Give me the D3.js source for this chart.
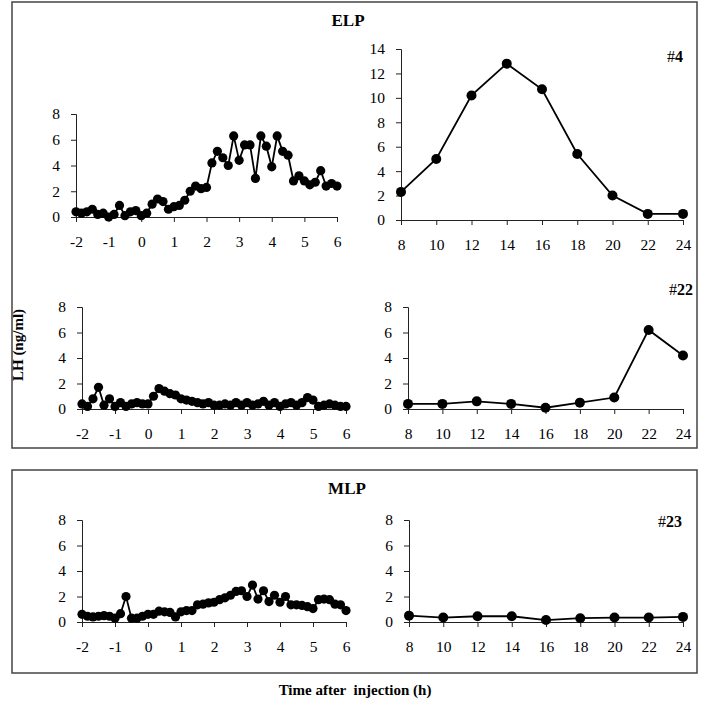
<!DOCTYPE html>
<html><head><meta charset="utf-8">
<script src="https://cdn.jsdelivr.net/npm/d3@7"></script>
<style>
body{margin:0;background:#fff;}
svg text{font-family:"Liberation Serif","Times New Roman",serif;fill:#000;}
</style></head>
<body><svg id="c" width="708" height="716"></svg>
<script>
// ---- data ----
const earlyTimes = d3.range(49).map(i => -2 + i/6);   // every 10 min from -2 h to 6 h
const lateTimes = [8,10,12,14,16,18,20,22,24];
const earlyTicks = [-2,-1,0,1,2,3,4,5,6];
const lateTicks = [8,10,12,14,16,18,20,22,24];
const smallYTicks = [0,2,4,6,8];
const bigYTicks = [0,2,4,6,8,10,12,14];

const elp4Early = [0.4,0.3,0.4,0.6,0.2,0.3,0.0,0.2,0.9,0.1,0.4,0.5,0.1,0.3,1.0,1.4,1.2,0.6,0.8,0.9,1.3,2.0,2.4,2.2,2.3,4.2,5.1,4.6,4.0,6.3,4.4,5.6,5.6,3.0,6.3,5.5,3.9,6.3,5.1,4.8,2.8,3.2,2.8,2.5,2.7,3.6,2.4,2.6,2.4];
const elp4Late = [2.3,5.0,10.2,12.8,10.7,5.4,2.0,0.5,0.5];
const elp22Early = [0.4,0.2,0.8,1.7,0.3,0.8,0.2,0.5,0.2,0.4,0.5,0.4,0.4,1.0,1.6,1.4,1.2,1.1,0.8,0.7,0.6,0.5,0.4,0.5,0.3,0.3,0.4,0.3,0.5,0.3,0.5,0.3,0.4,0.6,0.3,0.5,0.2,0.4,0.5,0.3,0.5,0.9,0.7,0.2,0.3,0.4,0.3,0.2,0.2];
const elp22Late = [0.4,0.4,0.6,0.4,0.1,0.5,0.9,6.2,4.2];
const mlp23Early = [0.6,0.45,0.4,0.45,0.5,0.45,0.3,0.65,2.0,0.3,0.3,0.45,0.6,0.6,0.85,0.8,0.75,0.4,0.8,0.9,0.9,1.35,1.4,1.5,1.55,1.75,1.9,2.1,2.4,2.45,2.0,2.9,1.8,2.45,1.6,2.1,1.55,2.0,1.35,1.35,1.3,1.2,1.05,1.75,1.8,1.75,1.4,1.35,0.9];
const mlp23Late = [0.5,0.35,0.45,0.45,0.15,0.3,0.35,0.35,0.4];

const svg = d3.select("#c");

// frames
svg.append("rect").attr("x",12).attr("y",2).attr("width",685).attr("height",446)
  .attr("fill","none").attr("stroke","#444").attr("stroke-width",1.5);
svg.append("rect").attr("x",12).attr("y",470).attr("width",685).attr("height",203)
  .attr("fill","none").attr("stroke","#444").attr("stroke-width",1.5);

const fmt = d => String(d);

function panel(opt){
  const x = d3.scaleLinear().domain(opt.xd).range(opt.xr);
  const y = d3.scaleLinear().domain(opt.yd).range(opt.yr);
  const g = svg.append("g");
  const ya = g.append("g").attr("transform",`translate(${opt.xr[0]},0)`)
    .call(d3.axisLeft(y).tickValues(opt.yt).tickFormat(fmt).tickSize(5).tickSizeOuter(5).tickPadding(11));
  const xa = g.append("g").attr("transform",`translate(0,${opt.yr[0]})`)
    .call(d3.axisBottom(x).tickValues(opt.xt).tickFormat(fmt).tickSize(5).tickSizeOuter(5).tickPadding(14));
  [ya,xa].forEach(a=>{
    a.selectAll("path,line").attr("stroke","#222").attr("stroke-width",1);
    a.selectAll("text").attr("font-size",15.5).attr("fill","#000")
      .attr("font-family","Liberation Serif, serif");
  });
  const line = d3.line().x(d=>x(d[0])).y(d=>y(d[1]));
  const pts = opt.xs.map((t,i)=>[t,opt.ys[i]]);
  g.append("path").datum(pts).attr("d",line).attr("fill","none")
    .attr("stroke","#000").attr("stroke-width",1.8);
  g.selectAll("circle.p").data(pts).enter().append("circle")
    .attr("cx",d=>x(d[0])).attr("cy",d=>y(d[1])).attr("r",opt.r).attr("fill","#000");
  if(opt.label){
    const t = svg.append("text").attr("x",opt.label[1]).attr("y",opt.label[2])
      .attr("text-anchor","end").attr("font-size",16).attr("font-weight","bold");
    t.append("tspan").attr("font-weight","normal").text("#");
    t.append("tspan").text(opt.label[0]);
  }
}

panel({xd:[-2,6],xr:[76,337],yd:[0,8],yr:[217,114],xt:earlyTicks,yt:smallYTicks,xs:earlyTimes,ys:elp4Early,r:4.6});
panel({xd:[8,24],xr:[401,683],yd:[0,14],yr:[220,49],xt:lateTicks,yt:bigYTicks,xs:lateTimes,ys:elp4Late,r:5,label:["4",683,62]});
panel({xd:[-2,6],xr:[82,346],yd:[0,8],yr:[409,307],xt:earlyTicks,yt:smallYTicks,xs:earlyTimes,ys:elp22Early,r:4.6});
panel({xd:[8,24],xr:[408,683],yd:[0,8],yr:[409,307],xt:lateTicks,yt:smallYTicks,xs:lateTimes,ys:elp22Late,r:5,label:["22",693,295]});
panel({xd:[-2,6],xr:[82,346],yd:[0,8],yr:[622,520],xt:earlyTicks,yt:smallYTicks,xs:earlyTimes,ys:mlp23Early,r:4.6});
panel({xd:[8,24],xr:[409,683],yd:[0,8],yr:[622,520],xt:lateTicks,yt:smallYTicks,xs:lateTimes,ys:mlp23Late,r:5,label:["23",682,527]});

// titles
svg.append("text").attr("x",348).attr("y",26).attr("text-anchor","middle")
  .attr("font-size",17).attr("font-weight","bold").text("ELP");
svg.append("text").attr("x",347).attr("y",494).attr("text-anchor","middle")
  .attr("font-size",17).attr("font-weight","bold").text("MLP");
svg.append("text").attr("transform","translate(23,345) rotate(-90)").attr("text-anchor","middle")
  .attr("font-size",15).attr("font-weight","bold").text("LH (ng/ml)");
svg.append("text").attr("x",355).attr("y",695).attr("text-anchor","middle")
  .attr("font-size",15).attr("font-weight","bold").attr("xml:space","preserve").text("Time after  injection (h)");
</script></body></html>
